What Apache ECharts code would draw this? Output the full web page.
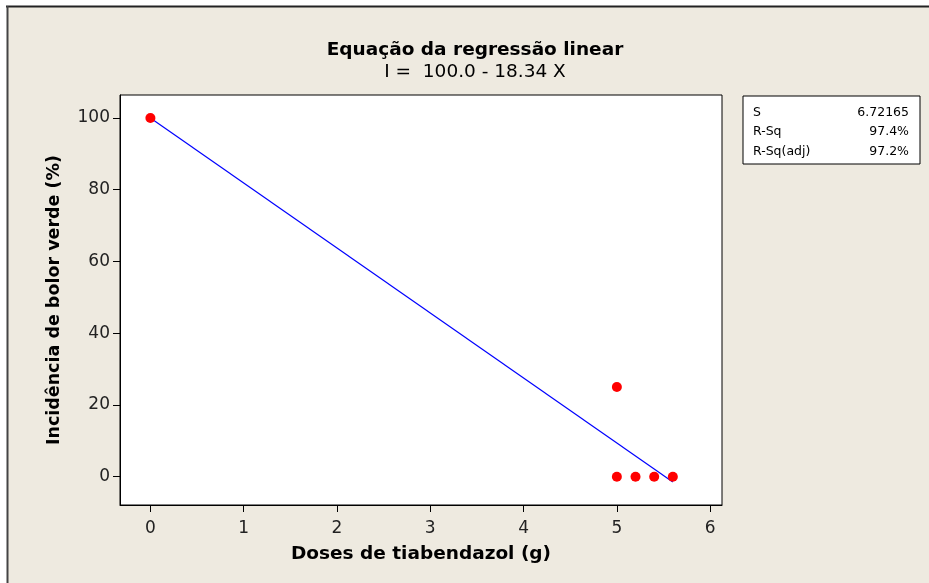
<!DOCTYPE html>
<html>
<head>
<meta charset="utf-8">
<script src="https://cdn.jsdelivr.net/npm/echarts@6/dist/echarts.min.js"></script>
<style>
html,body{margin:0;padding:0;background:#ffffff;}
#chart{width:929px;height:583px;}
</style>
</head>
<body>
<div id="chart"></div>
<script>
// Observed points (dose g, incidence %)
const doses = [0, 5, 5, 5.2, 5.4, 5.6];
const incidence = [100, 25, 0, 0, 0, 0];
// Fitted regression line endpoints
const fitX = [0, 5.6];
const fitY = [100, -1.5];
// Tick labels
const xTicks = [0, 1, 2, 3, 4, 5, 6];
const yTicks = [0, 20, 40, 60, 80, 100];
// Statistics box
const statNames = ['S', 'R-Sq', 'R-Sq(adj)'];
const statValues = ['6.72165', '97.4%', '97.2%'];
const titleText = 'Equação da regressão linear';
const subtitleText = 'I =  100.0 - 18.34 X';

const FONT = 'DejaVu Sans';
const chart = echarts.init(document.getElementById('chart'));

const statTexts = [];
statNames.forEach((n, i) => {
  statTexts.push({type:'text', left: 753, top: 106 + i*19.5,
    style:{text:n, font:'12.5px "' + FONT + '"', fill:'#000'}});
  statTexts.push({type:'text', right: 929-909, top: 106 + i*19.5,
    style:{text:statValues[i], font:'12.5px "' + FONT + '"', fill:'#000', textAlign:'right'}});
});

chart.setOption({
  backgroundColor: '#ffffff',
  animation: false,
  title: {
    text: titleText,
    subtext: subtitleText,
    left: 470,
    textAlign: 'center',
    top: 36,
    itemGap: 3,
    textStyle: {fontFamily: FONT, fontWeight: 'bold', fontSize: 18.5, color: '#000'},
    subtextStyle: {fontFamily: FONT, fontSize: 18.5, color: '#000'}
  },
  graphic: [
    {type:'rect', z:-10, left:8, top:6, shape:{width:921, height:577},
      style:{fill:'#EEEAE0'}},
    {type:'line', z:-9, shape:{x1:6, y1:6.5, x2:929, y2:6.5}, style:{stroke:'#222', lineWidth:2}},
    {type:'line', z:-9, shape:{x1:7.5, y1:6, x2:7.5, y2:583}, style:{stroke:'#444', lineWidth:2}},
    {type:'rect', left:742.5, top:95.5, shape:{width:177, height:68},
      style:{fill:'#fff', stroke:'#000', lineWidth:1}},
    ...statTexts
  ],
  grid: {left:120, right:207, top:95, bottom:78, show:true,
    backgroundColor:'#fff', borderColor:'#000', borderWidth:1},
  xAxis: {
    type:'value', min:-0.326, max:6.127,
    name:'Doses de tiabendazol (g)', nameLocation:'middle', nameGap:40,
    nameTextStyle:{fontFamily:FONT, fontWeight:'bold', fontSize:18.5, color:'#000'},
    axisLine:{show:true, onZero:false, lineStyle:{color:'#000'}},
    axisTick:{show:true, length:7, customValues:xTicks, lineStyle:{color:'#000'}},
    axisLabel:{customValues:xTicks, margin:15, fontFamily:FONT, fontSize:17, color:'#222'},
    splitLine:{show:false}
  },
  yAxis: {
    type:'value', min:-7.9, max:106.4,
    name:'Incidência de bolor verde (%)', nameLocation:'middle', nameGap:57,
    nameTextStyle:{fontFamily:FONT, fontWeight:'bold', fontSize:17.5, color:'#000'},
    axisLine:{show:true, onZero:false, lineStyle:{color:'#000'}},
    axisTick:{show:true, length:7, customValues:yTicks, lineStyle:{color:'#000'}},
    axisLabel:{customValues:yTicks, margin:10, fontFamily:FONT, fontSize:17, color:'#222'},
    splitLine:{show:false}
  },
  series: [
    {type:'line', data: fitX.map((x,i)=>[x, fitY[i]]), showSymbol:false,
      lineStyle:{color:'#0000ff', width:1.2}, z:2},
    {type:'scatter', data: doses.map((x,i)=>[x, incidence[i]]), symbolSize:10,
      itemStyle:{color:'#ff0000', opacity:1}, z:3}
  ]
});
</script>
</body>
</html>
